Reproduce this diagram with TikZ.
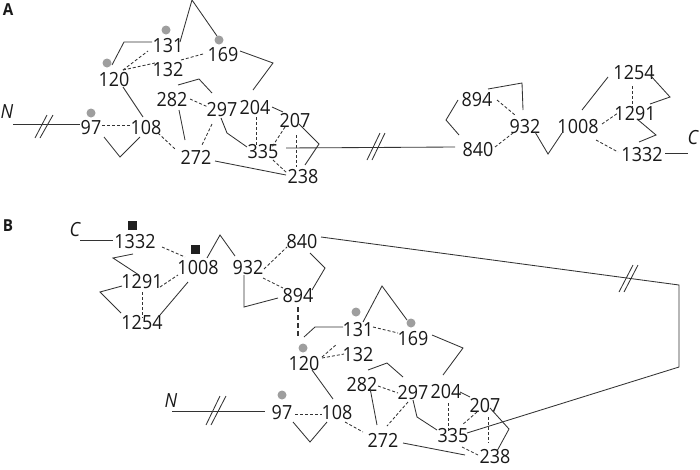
\documentclass[tikz,border=0pt]{standalone}
\usepackage{fontspec}
\setmainfont{Open Sans}[FakeStretch=0.92]
\begin{document}
\begin{tikzpicture}[x=1pt,y=-1pt,
  lbl/.style={inner sep=0pt, font=\fontsize{19.5}{22}\selectfont, text=black!90},
  term/.style={inner sep=0pt, font=\fontsize{19.5}{22}\selectfont\itshape, text=black!90},
  panel/.style={inner sep=0pt, font=\fontsize{16.5}{18}\selectfont\bfseries, text=black!90},
  sl/.style={draw=black!80, line width=0.85pt},
  dl/.style={draw=black!80, line width=0.85pt, dash pattern=on 3pt off 2pt},
  dlt/.style={draw=black!80, line width=1.2pt, dash pattern=on 5pt off 3pt},
  brk/.style={draw=black!80, line width=0.85pt},
  gdot/.style={circle, fill=black!38, inner sep=0pt, minimum size=9pt},
  bsq/.style={rectangle, fill=black!88, inner sep=0pt, minimum size=9pt}]
\useasboundingbox (0,0) rectangle (700,469);

% ---------------- Panel A ----------------
\node[panel] (pA) at (8,10) {A};
\node[term] (aN) at (7,112) {N};
\node[term] (aC) at (693,138) {C};
\foreach \n/\x/\y in {97/91/128,108/146/128,120/114/80,131/168/46,132/168/70,169/223/55,
  282/172/100,297/222/110,204/255/108,207/295/121,272/196/157,335/263/152,238/303/177,
  894/477/100,932/525/127,840/478/150,1008/578/127,1254/634/73,1291/635/114,1332/642/155}
  \node[lbl] (a\n) at (\x,\y) {\n};
\node[gdot] (ad131) at (166,30) {};
\node[gdot] (ad169) at (219,40) {};
\node[gdot] (ad120) at (107,63) {};
\node[gdot] (ad97) at (91,113) {};

\draw[sl] (13,124) -- (80,124);
\draw[brk] (35,138) -- (47,115) (40,138) -- (53,115);
\draw[dl] (102,125) -- (130,125);
\draw[sl] (104,137) -- (120,157) -- (140,137);
\draw[sl] (123,87) -- (143,117);
\draw[sl] (112,65) -- (124,42) -- (152,42);
\draw[dl] (123,70) -- (148,51);
\draw[dl] (123,70) -- (155,63);
\draw[dl] (181,60) -- (203,54);
\draw[sl] (180,42) -- (192,0) -- (217,36);
\draw[sl] (240,51) -- (273,63) -- (253,90);
\draw[sl] (178,85) -- (199,79) -- (212,93);
\draw[dl] (190,99) -- (208,107);
\draw[sl] (179,110) -- (185,140);
\draw[dl] (212,124) -- (202,145);
\draw[dl] (158,133) -- (175,149);
\draw[sl] (221,118) -- (227,133) -- (247,147);
\draw[sl] (272,107) -- (283,112);
\draw[dl] (256,117) -- (256,147);
\draw[dl] (285,127) -- (272,147);
\draw[dl] (296,135) -- (296,167);
\draw[sl] (299,124) -- (319,144) -- (305,165);
\draw[sl] (286,148) -- (455,147);
\draw[brk] (367,160) -- (380,133) (372,160) -- (385,133);
\draw[dl] (273,160) -- (287,173);
\draw[sl] (215,161) -- (286,175);
\draw[sl] (459,135) -- (446,120) -- (458,100);
\draw[sl] (488,89) -- (522,83) -- (523,110);
\draw[dl] (497,100) -- (515,115);
\draw[dl] (495,147) -- (513,133);
\draw[sl] (535,132) -- (548,154) -- (562,133);
\draw[sl] (582,110) -- (608,77);
\draw[dl] (602,124) -- (618,113);
\draw[dl] (596,140) -- (618,152);
\draw[dl] (632,86) -- (632,107);
\draw[sl] (650,75) -- (670,97) -- (650,104);
\draw[sl] (637,119) -- (656,135) -- (639,142);
\draw[sl] (665,153) -- (688,153);

% ---------------- Panel B ----------------
\node[panel] (pB) at (8,226) {B};
\node[term] (bC) at (75,230) {C};
\node[term] (bN) at (171,401) {N};
\foreach \n/\x/\y in {1332/135/242,1008/198/268,1291/142/282,1254/142/323,932/248/268,
  840/302/242,894/298/296,131/358/330,169/413/339,120/304/364,132/358/355,282/362/385,
  297/413/393,204/446/392,207/485/406,97/282/413,108/337/413,272/383/440,335/453/436,238/495/457}
  \node[lbl] (b\n) at (\x,\y) {\n};
\node[bsq] (bs1332) at (132,225) {};
\node[bsq] (bs1008) at (195,249) {};
\node[gdot] (bd131) at (356,312) {};
\node[gdot] (bd169) at (411,323) {};
\node[gdot] (bd120) at (303,348) {};
\node[gdot] (bd97) at (282,395) {};

\draw[sl] (80,240) -- (113,240);
\draw[dl] (162,247) -- (185,257);
\draw[sl] (133,254) -- (113,258) -- (139,275);
\draw[sl] (122,286) -- (100,292) -- (121,313);
\draw[dl] (142,292) -- (142,318);
\draw[dl] (160,287) -- (178,275);
\draw[sl] (188,282) -- (160,315);
\draw[sl] (207,258) -- (220,235) -- (235,256);
\draw[dl] (264,269) -- (287,247);
\draw[dl] (263,278) -- (283,288);
\draw[sl] (244,275) -- (244,307) -- (278,298);
\draw[sl] (310,253) -- (325,268) -- (312,290);
\draw[sl] (321,237) -- (679,285) -- (679,367) -- (467,433);
\draw[brk] (619,292) -- (633,265) (624,292) -- (638,265);
\draw[dlt] (298,307) -- (298,338);
\draw[sl] (304,337) -- (315,327) -- (343,327);
\draw[sl] (363,322) -- (382,286) -- (407,320);
\draw[dl] (373,327) -- (398,333);
\draw[dl] (322,357) -- (337,344);
\draw[dl] (322,358) -- (344,354);
\draw[sl] (432,335) -- (463,348) -- (443,375);
\draw[sl] (312,370) -- (333,399);
\draw[sl] (172,411) -- (265,411);
\draw[brk] (206,425) -- (220,396) (211,425) -- (226,396);
\draw[dl] (295,414) -- (322,414);
\draw[sl] (293,422) -- (310,442) -- (327,422);
\draw[dl] (345,422) -- (363,432);
\draw[sl] (368,370) -- (387,363) -- (403,377);
\draw[dl] (378,386) -- (398,393);
\draw[sl] (370,388) -- (377,425);
\draw[dl] (408,402) -- (387,426);
\draw[sl] (413,400) -- (417,417) -- (437,430);
\draw[sl] (460,392) -- (470,397);
\draw[dl] (448,403) -- (448,432);
\draw[dl] (477,412) -- (462,425);
\draw[dl] (488,417) -- (488,443);
\draw[sl] (490,408) -- (509,429) -- (497,451);
\draw[dl] (462,447) -- (478,455);
\draw[sl] (403,443) -- (465,455);
\end{tikzpicture}
\end{document}
